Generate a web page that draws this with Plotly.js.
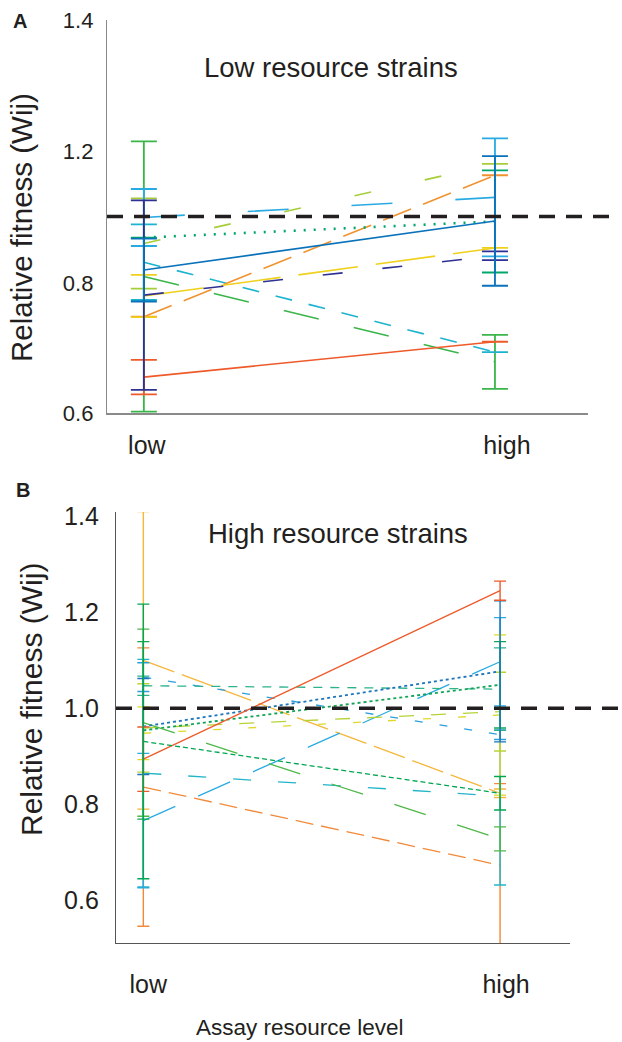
<!DOCTYPE html>
<html>
<head>
<meta charset="utf-8">
<script src="https://cdn.plot.ly/plotly-3.0.1.min.js"></script>
<style>
  html, body { margin: 0; padding: 0; background: #ffffff; }
  #chart { width: 622px; height: 1042px; }
</style>
</head>
<body>
<div id="chart"></div>
<script>
// ---------- data ----------
const categories = ['low', 'high'];
const yTickLabelsA = ['0.6', '0.8', '1.2', '1.4'];
const yTickLabelsB = ['0.6', '0.8', '1.0', '1.2', '1.4'];

// Panel A: low resource strains (mean relative fitness at low / high assay resource)
const strainsA   = ['A1', 'A2', 'A3', 'A4', 'A5', 'A6', 'A7', 'A8', 'A9', 'A10'];
const lowA       = [0.878, 0.945, 0.907, 0.796, 0.838, 0.673, 0.957, 0.998, 0.840, 0.891];
const highA      = [0.704, 1.107, 0.724, 1.084, 0.936, 0.745, 0.990, 1.039, 0.920, 0.991];
const lowErrA    = [0.275, 0.092, 0.077, 0.000, 0.043, 0.035, 0.000, 0.058, 0.193, 0.064];
const highErrA   = [0.055, 0.000, 0.000, 0.000, 0.000, 0.000, 0.104, 0.120, 0.009, 0.132];

// Panel B: high resource strains
const strainsB   = ['B1', 'B2', 'B3', 'B4', 'B5', 'B6', 'B7', 'B8', 'B9', 'B10', 'B11', 'B12', 'B13'];
const lowB       = [0.836, 1.100, 0.865, 0.766, 0.948, 0.959, 1.065, 1.047, 0.954, 0.970, 0.962, 0.894, 0.931];
const highB      = [0.673, 0.823, 0.817, 1.097, 0.986, 0.993, 0.945, 1.040, 1.049, 0.728, 1.077, 1.245, 0.823];
const lowErrB    = [0.290, 0.310, 0.237, 0.140, 0.055, 0.092, 0.030, 0.020, 0.185, 0.195, 0.100, 0.067, 0.286];
const highErrB   = [0.170, 0.009, 0.185, 0.092, 0.167, 0.082, 0.010, 0.086, 0.090, 0.025, 0.147, 0.020, 0.035];

// ---------- styles ----------
const colorsA = ['#3AB54A', '#A6CE39', '#1DB3CF', '#F0932F', '#EFD01B', '#EE5A2A', '#00A66A', '#29ABE2', '#2E3192', '#0A72BA'];
const dashesA = ['36px,36px', '17px,55px', '17px,17px', '30px,13px', '60px,18px', 'solid', '2px,8px', '41px,63px', '20px,40px', 'solid'];
const widthsA = [1.6, 1.6, 1.6, 1.6, 1.6, 1.6, 2.6, 1.6, 1.6, 1.6];

const colorsB = ['#F08A3B', '#F5B63A', '#22B5C8', '#29ABE2', '#E0D82A', '#B6D337', '#2A9FDB', '#2DB38C', '#12A454', '#4DB848', '#1C75BC', '#EE5A2A', '#00A651'];
const dashesB = ['18px,8px', '33px,8px', '18px,27px', '35px,25px', '8px,27px', '15px,17px', '8px,17px', '9px,8px', 'dot', '33px,33px', 'dot', 'solid', '5px,3px'];
const widthsB = [1.3, 1.3, 1.3, 1.3, 1.3, 1.3, 1.3, 1.3, 1.8, 1.3, 1.8, 1.3, 1.3];

const xPos = [0, 1];
const FONT = 'Liberation Sans, Arial, Helvetica, sans-serif';

const traces = [];
strainsA.forEach((name, i) => {
  traces.push({
    type: 'scatter', mode: 'lines', name: name,
    x: xPos, y: [lowA[i], highA[i]],
    xaxis: 'x', yaxis: 'y',
    line: { color: colorsA[i], width: widthsA[i], dash: dashesA[i] },
    error_y: { type: 'data', array: [lowErrA[i], highErrA[i]], visible: true,
               color: colorsA[i], thickness: 1.8, width: 13 },
    showlegend: false, hoverinfo: 'skip'
  });
});
strainsB.forEach((name, i) => {
  traces.push({
    type: 'scatter', mode: 'lines', name: name,
    x: xPos, y: [lowB[i], highB[i]],
    xaxis: 'x2', yaxis: 'y2',
    line: { color: colorsB[i], width: widthsB[i], dash: dashesB[i] },
    error_y: { type: 'data', array: [lowErrB[i], highErrB[i]], visible: true,
               color: colorsB[i], thickness: 1.4, width: 6 },
    showlegend: false, hoverinfo: 'skip'
  });
});

const H = 1042, W = 622;
const py = p => 1 - p / H;
const px = p => p / W;
const ann = (text, x, y, size, extra) => Object.assign({
  text: text, xref: 'paper', yref: 'paper', x: px(x), y: py(y),
  xanchor: 'center', yanchor: 'middle', showarrow: false,
  font: { size: size, family: FONT, color: '#231F20' }
}, extra || {});

const layout = {
  width: W, height: H,
  margin: { l: 0, r: 0, t: 0, b: 0 },
  paper_bgcolor: '#ffffff', plot_bgcolor: '#ffffff',
  font: { family: FONT, color: '#231F20' },
  showlegend: false,
  xaxis: {
    domain: [px(107), px(588)], range: [-0.105, 1.265], anchor: 'y',
    showline: true, linecolor: '#8a8a8a', linewidth: 1.6,
    showgrid: false, zeroline: false, ticks: '',
    tickvals: [0.0085, 1.034], ticktext: categories,
    tickfont: { size: 25, family: FONT, color: '#231F20' },
    ticklabelstandoff: 9, fixedrange: true
  },
  yaxis: {
    domain: [py(413), py(20)], range: [0.6, 1.4], anchor: 'x',
    showline: true, linecolor: '#8a8a8a', linewidth: 1.2,
    showgrid: false, zeroline: false, ticks: '',
    tickvals: [0.6, 0.865, 1.132, 1.4], ticktext: yTickLabelsA,
    tickfont: { size: 22, family: FONT, color: '#231F20' },
    ticklabelstandoff: 8, fixedrange: true
  },
  xaxis2: {
    domain: [px(116), px(570)], range: [-0.0766, 1.196], anchor: 'y2',
    showline: true, linecolor: '#555555', linewidth: 1.2,
    showgrid: false, zeroline: false, ticks: '',
    tickvals: [0.014, 1.0168], ticktext: categories,
    tickfont: { size: 25, family: FONT, color: '#231F20' },
    ticklabelstandoff: 19, fixedrange: true
  },
  yaxis2: {
    domain: [py(943), py(512)], range: [0.511, 1.409], anchor: 'x2',
    showline: true, linecolor: '#555555', linewidth: 1.2,
    showgrid: false, zeroline: false, ticks: '',
    tickvals: [0.6, 0.8, 1.0, 1.2, 1.4], ticktext: yTickLabelsB,
    tickfont: { size: 25, family: FONT, color: '#231F20' },
    ticklabelstandoff: 11, fixedrange: true
  },
  shapes: [
    { type: 'line', xref: 'paper', yref: 'y', x0: px(107), x1: px(614), y0: 1, y1: 1,
      line: { color: '#231F20', width: 3.6, dash: '16px,11px' } },
    { type: 'line', xref: 'paper', yref: 'y2', x0: px(116), x1: 1, y0: 1, y1: 1,
      line: { color: '#231F20', width: 3.6, dash: '16px,11px' } }
  ],
  annotations: [
    ann('<b>A</b>', 20, 21, 20),
    ann('<b>B</b>', 23, 490, 20),
    ann('Low resource strains', 331, 67, 27.5),
    ann('High resource strains', 338, 533, 27.5),
    ann('Relative fitness (Wij)', 22, 228, 29.5, { textangle: -90 }),
    ann('Relative fitness (Wij)', 31, 700, 30, { textangle: -90 }),
    ann('Assay resource level', 300, 1027, 22.5)
  ]
};

Plotly.newPlot('chart', traces, layout, { staticPlot: true, displayModeBar: false });
</script>
</body>
</html>
